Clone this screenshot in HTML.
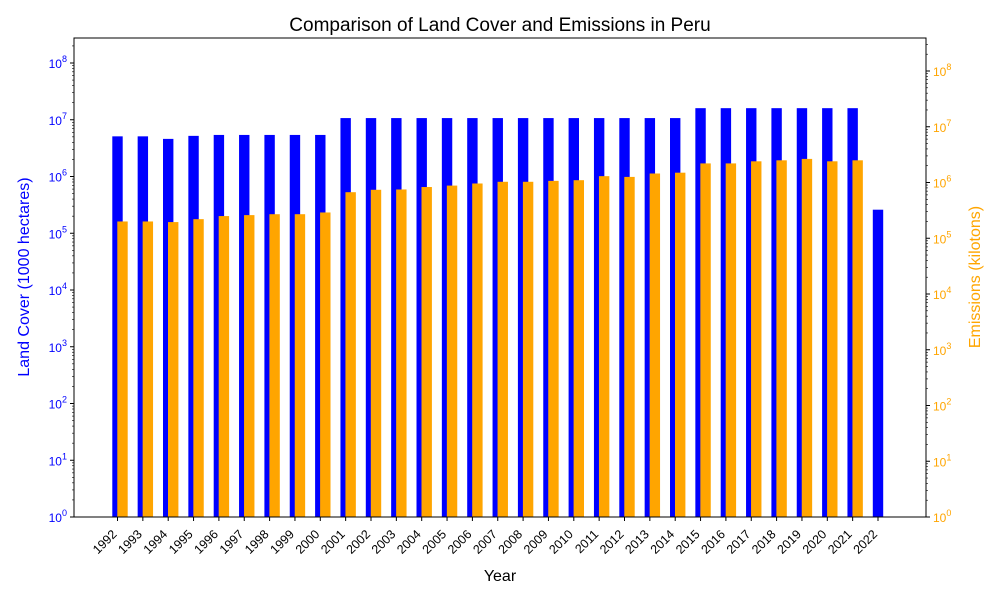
<!DOCTYPE html>
<html><head><meta charset="utf-8"><style>
body{margin:0;background:#fff;font-family:"Liberation Sans",sans-serif}
</style></head><body>
<svg id="chart" width="1000" height="600" xmlns="http://www.w3.org/2000/svg" font-family="Liberation Sans, sans-serif"></svg>
<script>
const years=[1992,1993,1994,1995,1996,1997,1998,1999,2000,2001,2002,2003,2004,2005,2006,2007,2008,2009,2010,2011,2012,2013,2014,2015,2016,2017,2018,2019,2020,2021,2022];
const landCover=[5.1e6,5.1e6,4.6e6,5.2e6,5.4e6,5.4e6,5.4e6,5.4e6,5.4e6,1.07e7,1.07e7,1.07e7,1.07e7,1.07e7,1.07e7,1.07e7,1.07e7,1.07e7,1.07e7,1.07e7,1.07e7,1.07e7,1.07e7,1.6e7,1.6e7,1.6e7,1.6e7,1.6e7,1.6e7,1.6e7,2.6e5];
const emissions=[2.0e5,2.0e5,1.95e5,2.2e5,2.5e5,2.6e5,2.7e5,2.7e5,2.9e5,6.7e5,7.4e5,7.5e5,8.3e5,8.8e5,9.6e5,1.03e6,1.03e6,1.07e6,1.1e6,1.3e6,1.26e6,1.45e6,1.5e6,2.2e6,2.2e6,2.4e6,2.5e6,2.65e6,2.4e6,2.5e6,null];
const leftTicks=[0,1,2,3,4,5,6,7,8];
const rightTicks=[0,1,2,3,4,5,6,7,8];
const svg=document.getElementById('chart');
const NS='http://www.w3.org/2000/svg';
function mk(t,a,p){const e=document.createElementNS(NS,t);for(const k in a)e.setAttribute(k,a[k]);(p||svg).appendChild(e);return e;}
const L=74,R=926,T=38,B=517;
const yL=v=>B-Math.log10(v)*56.75;
const yR=v=>B-Math.log10(v)*55.75;
const x0=117.5,step=(878-117.5)/30;
const xS=i=>x0+i*step;
const bw=10.4;
years.forEach((y,i)=>{
  const b=mk('rect',{x:xS(i)-bw/2,y:yL(landCover[i]),width:bw,height:B-yL(landCover[i]),fill:'#0000ff'});
  
  
});
years.forEach((y,i)=>{
  if(emissions[i]==null)return;
  const b=mk('rect',{x:xS(i)-bw/2+5,y:yR(emissions[i]),width:bw,height:B-yR(emissions[i]),fill:'#ffa500'});
  
  
});
const fr=mk('rect',{x:L,y:T,width:R-L,height:B-T,fill:'none',stroke:'#000','stroke-width':1});


leftTicks.forEach(p=>{
  const y=yL(Math.pow(10,p));
  mk('line',{x1:L-4,x2:L,y1:y,y2:y,stroke:'#000'});
  const t=mk('text',{x:L-7,y:y+5,'text-anchor':'end','font-size':12,fill:'#0000ff'});
  t.innerHTML='10<tspan dy="-6" font-size="9">'+p+'</tspan>';
  
  
});
for(let p=0;p<9;p++)for(let m=2;m<10;m++){const y=yL(m*Math.pow(10,p));if(y<T)continue;mk('line',{x1:L-2,x2:L,y1:y,y2:y,stroke:'#000','stroke-width':0.6});}
rightTicks.forEach(p=>{
  const y=yR(Math.pow(10,p));
  mk('line',{x1:R,x2:R+4,y1:y,y2:y,stroke:'#000'});
  const t=mk('text',{x:R+7,y:y+5,'font-size':12,fill:'#ffa500'});
  t.innerHTML='10<tspan dy="-6" font-size="9">'+p+'</tspan>';
  
  
});
for(let p=0;p<9;p++)for(let m=2;m<10;m++){const y=yR(m*Math.pow(10,p));if(y<T)continue;mk('line',{x1:R,x2:R+2,y1:y,y2:y,stroke:'#000','stroke-width':0.6});}
years.forEach((y,i)=>{
  const x=xS(i);
  mk('line',{x1:x,x2:x,y1:B,y2:B+4,stroke:'#000'});
  const ax=x, ay=B+18;
  const t=mk('text',{x:ax,y:ay,'text-anchor':'end','font-size':12.5,transform:`rotate(-45 ${ax} ${ay})`});
  t.textContent=y;
  
  
});
let t=mk('text',{x:500,y:31,'text-anchor':'middle','font-size':19});t.textContent='Comparison of Land Cover and Emissions in Peru';


t=mk('text',{x:500,y:581,'text-anchor':'middle','font-size':16});t.textContent='Year';


t=mk('text',{x:29,y:277,'text-anchor':'middle','font-size':16,fill:'#0000ff',transform:'rotate(-90 29 277)'});t.textContent='Land Cover (1000 hectares)';


t=mk('text',{x:980,y:277,'text-anchor':'middle','font-size':16,fill:'#ffa500',transform:'rotate(-90 980 277)'});t.textContent='Emissions (kilotons)';


</script>
</body></html>
